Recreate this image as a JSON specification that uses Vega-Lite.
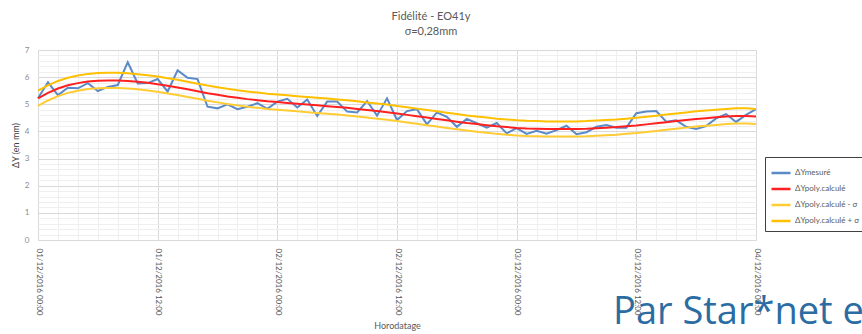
{
  "$schema": "https://vega.github.io/schema/vega-lite/v6.json",
  "width": 718,
  "height": 190,
  "autosize": {"type": "none"},
  "padding": {"left": 38, "top": 50, "right": 106, "bottom": 94},
  "background": "white",
  "config": {"font": "Lato", "view": {"stroke": null}},
  "title": {"text": ["Fidélité - EO41y", "σ=0,28mm"], "fontSize": 11, "fontWeight": "normal", "color": "#595959", "anchor": "middle", "dx": 34, "offset": 9, "lineHeight": 15},
  "data": {"values": [
    {"t":"2016-12-01T00:00","m":5.22,"c":5.22,"lo":4.94,"hi":5.50},
    {"t":"2016-12-01T01:00","m":5.81,"c":5.42,"lo":5.14,"hi":5.70},
    {"t":"2016-12-01T02:00","m":5.34,"c":5.58,"lo":5.30,"hi":5.86},
    {"t":"2016-12-01T03:00","m":5.61,"c":5.70,"lo":5.42,"hi":5.98},
    {"t":"2016-12-01T04:00","m":5.59,"c":5.78,"lo":5.50,"hi":6.06},
    {"t":"2016-12-01T05:00","m":5.78,"c":5.84,"lo":5.56,"hi":6.12},
    {"t":"2016-12-01T06:00","m":5.49,"c":5.87,"lo":5.59,"hi":6.15},
    {"t":"2016-12-01T07:00","m":5.64,"c":5.88,"lo":5.60,"hi":6.16},
    {"t":"2016-12-01T08:00","m":5.71,"c":5.88,"lo":5.60,"hi":6.16},
    {"t":"2016-12-01T09:00","m":6.55,"c":5.86,"lo":5.58,"hi":6.14},
    {"t":"2016-12-01T10:00","m":5.77,"c":5.83,"lo":5.55,"hi":6.11},
    {"t":"2016-12-01T11:00","m":5.78,"c":5.79,"lo":5.51,"hi":6.07},
    {"t":"2016-12-01T12:00","m":5.93,"c":5.74,"lo":5.46,"hi":6.02},
    {"t":"2016-12-01T13:00","m":5.47,"c":5.68,"lo":5.40,"hi":5.96},
    {"t":"2016-12-01T14:00","m":6.25,"c":5.62,"lo":5.34,"hi":5.90},
    {"t":"2016-12-01T15:00","m":5.98,"c":5.55,"lo":5.27,"hi":5.83},
    {"t":"2016-12-01T16:00","m":5.93,"c":5.48,"lo":5.20,"hi":5.76},
    {"t":"2016-12-01T17:00","m":4.91,"c":5.41,"lo":5.13,"hi":5.69},
    {"t":"2016-12-01T18:00","m":4.85,"c":5.35,"lo":5.07,"hi":5.63},
    {"t":"2016-12-01T19:00","m":5.00,"c":5.29,"lo":5.01,"hi":5.57},
    {"t":"2016-12-01T20:00","m":4.82,"c":5.24,"lo":4.96,"hi":5.52},
    {"t":"2016-12-01T21:00","m":4.91,"c":5.19,"lo":4.91,"hi":5.47},
    {"t":"2016-12-01T22:00","m":5.04,"c":5.15,"lo":4.87,"hi":5.43},
    {"t":"2016-12-01T23:00","m":4.83,"c":5.11,"lo":4.83,"hi":5.39},
    {"t":"2016-12-02T00:00","m":5.10,"c":5.08,"lo":4.80,"hi":5.36},
    {"t":"2016-12-02T01:00","m":5.20,"c":5.05,"lo":4.77,"hi":5.33},
    {"t":"2016-12-02T02:00","m":4.88,"c":5.02,"lo":4.74,"hi":5.30},
    {"t":"2016-12-02T03:00","m":5.18,"c":4.99,"lo":4.71,"hi":5.27},
    {"t":"2016-12-02T04:00","m":4.57,"c":4.96,"lo":4.68,"hi":5.24},
    {"t":"2016-12-02T05:00","m":5.10,"c":4.93,"lo":4.65,"hi":5.21},
    {"t":"2016-12-02T06:00","m":5.10,"c":4.90,"lo":4.62,"hi":5.18},
    {"t":"2016-12-02T07:00","m":4.73,"c":4.87,"lo":4.59,"hi":5.15},
    {"t":"2016-12-02T08:00","m":4.70,"c":4.83,"lo":4.55,"hi":5.11},
    {"t":"2016-12-02T09:00","m":5.12,"c":4.79,"lo":4.51,"hi":5.07},
    {"t":"2016-12-02T10:00","m":4.58,"c":4.75,"lo":4.47,"hi":5.03},
    {"t":"2016-12-02T11:00","m":5.22,"c":4.71,"lo":4.43,"hi":4.99},
    {"t":"2016-12-02T12:00","m":4.42,"c":4.66,"lo":4.38,"hi":4.94},
    {"t":"2016-12-02T13:00","m":4.75,"c":4.61,"lo":4.33,"hi":4.89},
    {"t":"2016-12-02T14:00","m":4.82,"c":4.56,"lo":4.28,"hi":4.84},
    {"t":"2016-12-02T15:00","m":4.26,"c":4.51,"lo":4.23,"hi":4.79},
    {"t":"2016-12-02T16:00","m":4.70,"c":4.46,"lo":4.18,"hi":4.74},
    {"t":"2016-12-02T17:00","m":4.54,"c":4.41,"lo":4.13,"hi":4.69},
    {"t":"2016-12-02T18:00","m":4.17,"c":4.36,"lo":4.08,"hi":4.64},
    {"t":"2016-12-02T19:00","m":4.46,"c":4.31,"lo":4.03,"hi":4.59},
    {"t":"2016-12-02T20:00","m":4.30,"c":4.27,"lo":3.99,"hi":4.55},
    {"t":"2016-12-02T21:00","m":4.14,"c":4.23,"lo":3.95,"hi":4.51},
    {"t":"2016-12-02T22:00","m":4.31,"c":4.19,"lo":3.91,"hi":4.47},
    {"t":"2016-12-02T23:00","m":3.93,"c":4.16,"lo":3.88,"hi":4.44},
    {"t":"2016-12-03T00:00","m":4.12,"c":4.13,"lo":3.85,"hi":4.41},
    {"t":"2016-12-03T01:00","m":3.91,"c":4.11,"lo":3.83,"hi":4.39},
    {"t":"2016-12-03T02:00","m":4.02,"c":4.10,"lo":3.82,"hi":4.38},
    {"t":"2016-12-03T03:00","m":3.92,"c":4.09,"lo":3.81,"hi":4.37},
    {"t":"2016-12-03T04:00","m":4.05,"c":4.09,"lo":3.81,"hi":4.37},
    {"t":"2016-12-03T05:00","m":4.21,"c":4.09,"lo":3.81,"hi":4.37},
    {"t":"2016-12-03T06:00","m":3.90,"c":4.09,"lo":3.81,"hi":4.37},
    {"t":"2016-12-03T07:00","m":3.97,"c":4.10,"lo":3.82,"hi":4.38},
    {"t":"2016-12-03T08:00","m":4.17,"c":4.12,"lo":3.84,"hi":4.40},
    {"t":"2016-12-03T09:00","m":4.24,"c":4.14,"lo":3.86,"hi":4.42},
    {"t":"2016-12-03T10:00","m":4.14,"c":4.16,"lo":3.88,"hi":4.44},
    {"t":"2016-12-03T11:00","m":4.14,"c":4.19,"lo":3.91,"hi":4.47},
    {"t":"2016-12-03T12:00","m":4.67,"c":4.22,"lo":3.94,"hi":4.50},
    {"t":"2016-12-03T13:00","m":4.73,"c":4.26,"lo":3.98,"hi":4.54},
    {"t":"2016-12-03T14:00","m":4.75,"c":4.30,"lo":4.02,"hi":4.58},
    {"t":"2016-12-03T15:00","m":4.36,"c":4.34,"lo":4.06,"hi":4.62},
    {"t":"2016-12-03T16:00","m":4.41,"c":4.38,"lo":4.10,"hi":4.66},
    {"t":"2016-12-03T17:00","m":4.17,"c":4.42,"lo":4.14,"hi":4.70},
    {"t":"2016-12-03T18:00","m":4.09,"c":4.46,"lo":4.18,"hi":4.74},
    {"t":"2016-12-03T19:00","m":4.20,"c":4.49,"lo":4.21,"hi":4.77},
    {"t":"2016-12-03T20:00","m":4.48,"c":4.52,"lo":4.24,"hi":4.80},
    {"t":"2016-12-03T21:00","m":4.64,"c":4.55,"lo":4.27,"hi":4.83},
    {"t":"2016-12-03T22:00","m":4.35,"c":4.57,"lo":4.29,"hi":4.85},
    {"t":"2016-12-03T23:00","m":4.61,"c":4.57,"lo":4.29,"hi":4.85},
    {"t":"2016-12-04T00:00","m":4.82,"c":4.55,"lo":4.27,"hi":4.83}
  ]},
  "transform": [{"fold": ["m", "c", "lo", "hi"], "as": ["s", "v"]}],
  "layer": [
    {
      "mark": {"type": "line", "strokeOpacity": 0},
      "encoding": {
        "x": {"field": "t", "type": "temporal", "scale": {"nice": false},
          "axis": {"orient": "bottom", "values": [
            {"year":2016,"month":12,"date":1,"hours":2},{"year":2016,"month":12,"date":1,"hours":4},{"year":2016,"month":12,"date":1,"hours":6},{"year":2016,"month":12,"date":1,"hours":8},{"year":2016,"month":12,"date":1,"hours":10},
            {"year":2016,"month":12,"date":1,"hours":14},{"year":2016,"month":12,"date":1,"hours":16},{"year":2016,"month":12,"date":1,"hours":18},{"year":2016,"month":12,"date":1,"hours":20},{"year":2016,"month":12,"date":1,"hours":22},
            {"year":2016,"month":12,"date":2,"hours":2},{"year":2016,"month":12,"date":2,"hours":4},{"year":2016,"month":12,"date":2,"hours":6},{"year":2016,"month":12,"date":2,"hours":8},{"year":2016,"month":12,"date":2,"hours":10},
            {"year":2016,"month":12,"date":2,"hours":14},{"year":2016,"month":12,"date":2,"hours":16},{"year":2016,"month":12,"date":2,"hours":18},{"year":2016,"month":12,"date":2,"hours":20},{"year":2016,"month":12,"date":2,"hours":22},
            {"year":2016,"month":12,"date":3,"hours":2},{"year":2016,"month":12,"date":3,"hours":4},{"year":2016,"month":12,"date":3,"hours":6},{"year":2016,"month":12,"date":3,"hours":8},{"year":2016,"month":12,"date":3,"hours":10},
            {"year":2016,"month":12,"date":3,"hours":14},{"year":2016,"month":12,"date":3,"hours":16},{"year":2016,"month":12,"date":3,"hours":18},{"year":2016,"month":12,"date":3,"hours":20},{"year":2016,"month":12,"date":3,"hours":22}
          ], "grid": true, "gridColor": "#efefef", "labels": false, "ticks": false, "domain": false, "title": null}},
        "y": {"field": "v", "type": "quantitative", "scale": {"domain": [0, 7], "nice": false},
          "axis": {"orient": "left", "values": [0.2,0.4,0.6,0.8,1.2,1.4,1.6,1.8,2.2,2.4,2.6,2.8,3.2,3.4,3.6,3.8,4.2,4.4,4.6,4.8,5.2,5.4,5.6,5.8,6.2,6.4,6.6,6.8], "grid": true, "gridColor": "#efefef", "labels": false, "ticks": false, "domain": false, "title": null}},
        "detail": {"field": "s"}
      }
    },
    {
      "mark": {"type": "line", "strokeWidth": 2},
      "encoding": {
        "x": {"field": "t", "type": "temporal", "scale": {"nice": false},
          "axis": {"orient": "bottom", "values": [
            {"year":2016,"month":12,"date":1,"hours":0},{"year":2016,"month":12,"date":1,"hours":12},
            {"year":2016,"month":12,"date":2,"hours":0},{"year":2016,"month":12,"date":2,"hours":12},
            {"year":2016,"month":12,"date":3,"hours":0},{"year":2016,"month":12,"date":3,"hours":12},
            {"year":2016,"month":12,"date":4,"hours":0}
          ], "format": "%d/%m/%Y %H:%M", "labelAngle": 90, "labelAlign": "left", "labelBaseline": "middle", "labelFlush": false, "labelOverlap": false, "labelFontSize": 8, "labelColor": "#595959", "labelPadding": 8, "ticks": false, "domainColor": "#d9d9d9", "grid": true, "gridColor": "#d9d9d9", "title": "Horodatage", "titleFontSize": 9, "titleFontWeight": "normal", "titleColor": "#595959", "titleY": 81, "titleBaseline": "top"}},
        "y": {"field": "v", "type": "quantitative", "scale": {"domain": [0, 7], "nice": false},
          "axis": {"orient": "left", "values": [0,1,2,3,4,5,6,7], "grid": true, "gridColor": "#d9d9d9", "domain": false, "ticks": false, "labelFontSize": 8, "labelColor": "#8c8c8c", "labelPadding": 9, "title": "ΔY (en mm)", "titleFontSize": 9, "titleFontWeight": "normal", "titleColor": "#404040", "titleX": -23, "titleY": 95, "titleAngle": -90, "titleAlign": "center", "titleBaseline": "middle"}},
        "color": {"field": "s", "type": "nominal",
          "scale": {"domain": ["m", "c", "lo", "hi"], "range": ["#5b8ac8", "#ff2020", "#ffcc33", "#ffc000"]},
          "legend": {"title": null, "orient": "none", "legendX": 727, "legendY": 107, "strokeColor": "#404040", "fillColor": "white", "padding": 5, "symbolType": "stroke", "symbolSize": 361, "symbolStrokeWidth": 2.5, "labelFontSize": 8, "labelOffset": 3, "labelColor": "#595959", "rowPadding": 0,
            "labelExpr": "datum.label == 'm' ? 'ΔYmesuré' : datum.label == 'c' ? 'ΔYpoly.calculé' : datum.label == 'lo' ? 'ΔYpoly.calculé - σ' : 'ΔYpoly.calculé + σ'"}}
      }
    },
    {
      "data": {"values": [{}]},
      "mark": {"type": "text", "text": "Par Star*net e", "fontSize": 38, "color": "#2b6ca3", "align": "left", "baseline": "alphabetic", "font": "Open Sans"},
      "encoding": {
        "x": {"datum": {"year": 2016, "month": 12, "date": 3, "hours": 9, "minutes": 40}, "type": "temporal", "axis": null},
        "y": {"datum": -3.1, "type": "quantitative", "axis": null, "scale": {"domain": [0, 7], "nice": false}}
      }
    }
  ],
  "resolve": {"axis": {"x": "independent", "y": "independent"}}
}
